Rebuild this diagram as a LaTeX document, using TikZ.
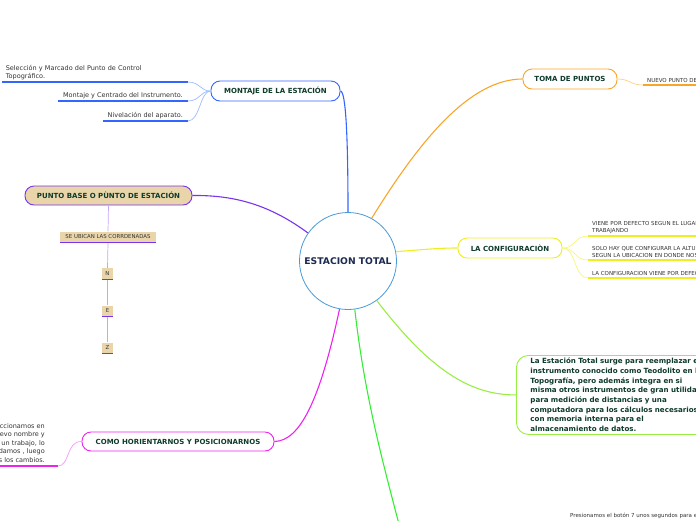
\documentclass[tikz,border=0pt]{standalone}
\usepackage{fontspec}
\setmainfont{DejaVu Sans}
\usetikzlibrary{positioning}
\definecolor{mmtext}{HTML}{0E3B2C}
\definecolor{mmnavy}{HTML}{1B2A4E}
\definecolor{mmcircle}{HTML}{4A9AD8}
\definecolor{mmblue}{HTML}{3366FF}
\definecolor{mmbluelt}{HTML}{9DBBFF}
\definecolor{mmorange}{HTML}{F7A62A}
\definecolor{mmorangelt}{HTML}{FFCF80}
\definecolor{mmyellow}{HTML}{EEEE22}
\definecolor{mmyellowlt}{HTML}{F7F77A}
\definecolor{mmlime}{HTML}{99EE44}
\definecolor{mmgreen}{HTML}{33EE33}
\definecolor{mmpurple}{HTML}{7733EE}
\definecolor{mmpurplelt}{HTML}{C4A6F8}
\definecolor{mmmagenta}{HTML}{EE22EE}
\definecolor{mmmagentalt}{HTML}{F29BF2}
\definecolor{mmtan}{HTML}{E9D5A9}
\definecolor{mmgray}{HTML}{333333}
\tikzset{
  mmcentre/.style={
    circle, draw=mmcircle, fill=white, line width=0.8pt,
    minimum size=97pt, inner sep=0pt, text=mmnavy,
    font=\bfseries\fontsize{9.2}{11}\selectfont
  },
  mmtopic/.style={
    draw=#1, fill=white, line width=0.9pt, rounded corners=9pt,
    minimum height=20pt, inner xsep=6pt, inner ysep=0pt, text=mmtext,
    font=\bfseries\fontsize{7}{8.5}\selectfont
  },
  mmleaf/.style={
    inner xsep=4pt, inner ysep=2pt, align=left, text=mmgray,
    font=\fontsize{6.5}{7.8}\selectfont
  },
  mmcaps/.style={
    inner xsep=4pt, inner ysep=2pt, align=left, text=mmgray,
    font=\fontsize{5.5}{6.8}\selectfont
  },
  mmtag/.style={
    fill=mmtan, inner sep=0pt, minimum height=11pt, text=mmgray,
    font=\fontsize{5.4}{6}\selectfont
  },
  mmmain/.style={line width=1.1pt},
  mmsub/.style={line width=0.7pt},
  mmuline/.style={line width=1.4pt}
}
\begin{document}
\begin{tikzpicture}[x=1pt,y=-1pt]
  \useasboundingbox (0,0) rectangle (696,520);

  % centre
  \node[mmcentre] (centre) at (348,261) {ESTACION TOTAL};

  % main topics
  \node[mmtopic=mmblue,minimum width=129pt] (montaje) at (275.5,91) {MONTAJE DE LA ESTACIÓN};
  \node[mmtopic=mmorange,minimum width=94pt] (toma) at (570,79) {TOMA DE PUNTOS};
  \node[mmtopic=mmyellow,minimum width=104pt] (config) at (510,248) {LA CONFIGURACIÒN};
  \node[mmtopic=mmpurple,fill=mmtan,minimum width=167pt,minimum height=19pt] (base) at (108.5,195.5) {PUNTO BASE O PÙNTO DE ESTACIÓN};
  \node[mmtopic=mmmagenta,minimum width=192pt,minimum height=19pt] (como) at (178,441.5) {COMO HORIENTARNOS Y POSICIONARNOS};
  \node[mmtopic=mmlime,rounded corners=12pt,anchor=north west,align=left,
    text width=220pt,minimum height=79pt,inner xsep=14pt,
    font=\bfseries\fontsize{7.1}{9.7}\selectfont] (surge) at (516,355)
    {La Estación Total surge para reemplazar el\\
     instrumento conocido como Teodolito en la\\
     Topografía, pero además integra en si\\
     misma otros instrumentos de gran utilidad\\
     para medición de distancias y una\\
     computadora para los cálculos necesarios y\\
     con memoria interna para el\\
     almacenamiento de datos.};
  \coordinate (abajo) at (401,532);

  \draw[mmmain,mmblue] (montaje.east) .. controls (346,91) and (348,140) .. (centre.north);
  \draw[mmmain,mmorange] (centre.61) .. controls (420,140) and (470,79) .. (toma.west);
  \draw[mmmain,mmyellow] (centre.11) .. controls (430,249) and (440,248) .. (config.west);
  \draw[mmmain,mmlime] (centre.-54) .. controls (430,370) and (470,395) .. (surge.west);
  \draw[mmmain,mmgreen] (centre.-82) .. controls (365,400) and (385,470) .. (abajo);
  \draw[mmmain,mmpurple] (centre.145) .. controls (270,205) and (235,195) .. (base.east);
  \draw[mmmain,mmmagenta] (centre.-100) .. controls (320,400) and (300,441) .. (como.east);

  % montaje
  \node[mmleaf,anchor=south east,text width=178pt] (sel) at (188,82)
    {Selección y Marcado del Punto de Control\\Topográfico.};
  \node[mmleaf,anchor=south east,inner xsep=5pt] (cen) at (188,101) {Montaje y Centrado del Instrumento.};
  \node[mmleaf,anchor=south east,inner xsep=5pt] (niv) at (188,121) {Nivelación del aparato.};
  \foreach \leaf in {sel,cen,niv} {
    \draw[mmuline,mmblue] (\leaf.south west) -- (\leaf.south east);
    \draw[mmsub,mmbluelt] (montaje.west) .. controls (200,91) and (200,0 |- \leaf.south) .. (\leaf.south east);
  }

  % toma de puntos
  \node[mmcaps,anchor=south west] (nuevo) at (643,85) {NUEVO PUNTO DE};
  \draw[mmuline,mmorange] (nuevo.south west) -- (nuevo.south east);
  \draw[mmsub,mmorangelt] (toma.east) .. controls (630,79) and (630,85) .. (nuevo.south west);

  % configuracion
  \node[mmcaps,anchor=south west] (defecto) at (588,236) {VIENE POR DEFECTO SEGUN EL LUGAR\\TRABAJANDO};
  \node[mmcaps,anchor=south west] (altura) at (588,260) {SOLO HAY QUE CONFIGURAR LA ALTURA\\SEGUN LA UBICACION EN DONDE NOS};
  \node[mmcaps,anchor=south west] (viene) at (588,278) {LA CONFIGURACION VIENE POR DEFECTO};
  \foreach \leaf in {defecto,altura,viene} {
    \draw[mmuline,mmyellow] (\leaf.south west) -- (\leaf.south east);
    \draw[mmsub,mmyellowlt] (config.east) .. controls (576,248) and (574,0 |- \leaf.south) .. (\leaf.south west);
  }

  % punto base
  \node[mmtag,minimum width=96pt] (ubican) at (108,237) {SE UBICAN LAS CORRDENADAS};
  \node[mmtag,minimum width=11pt] (n) at (107.5,273.5) {N};
  \node[mmtag,minimum width=11pt] (e) at (107.5,311) {E};
  \node[mmtag,minimum width=11pt] (z) at (107.5,348) {Z};
  \draw[mmsub,mmpurplelt] (base.south) -- (ubican.north);
  \draw[mmsub,mmpurplelt] (ubican.south) -- (n.north);
  \draw[mmsub,mmpurplelt] (n.south) -- (e.north);
  \draw[mmsub,mmpurplelt] (e.south) -- (z.north);
  \foreach \leaf in {ubican,n,e,z}
    \draw[mmsub,mmpurple,line width=1pt] (\leaf.south west) -- (\leaf.south east);

  % como horientarnos
  \node[mmleaf,anchor=south east,align=right,font=\fontsize{6.5}{8.5}\selectfont] (guardar) at (49,466)
    {Seleccionamos en\\nuevo nombre y\\creamos un trabajo, lo\\guardamos , luego\\aceptamos los cambios.};
  \draw[mmuline,mmmagenta] (guardar.south west) -- (58,466) coordinate (gfin);
  \draw[mmsub,mmmagentalt] (como.west) .. controls (66,441) and (70,466) .. (gfin);

  % abajo
  \node[mmcaps,anchor=west] (boton) at (566,516) {Presionamos el botón 7 unos segundos para encender};
\end{tikzpicture}
\end{document}
